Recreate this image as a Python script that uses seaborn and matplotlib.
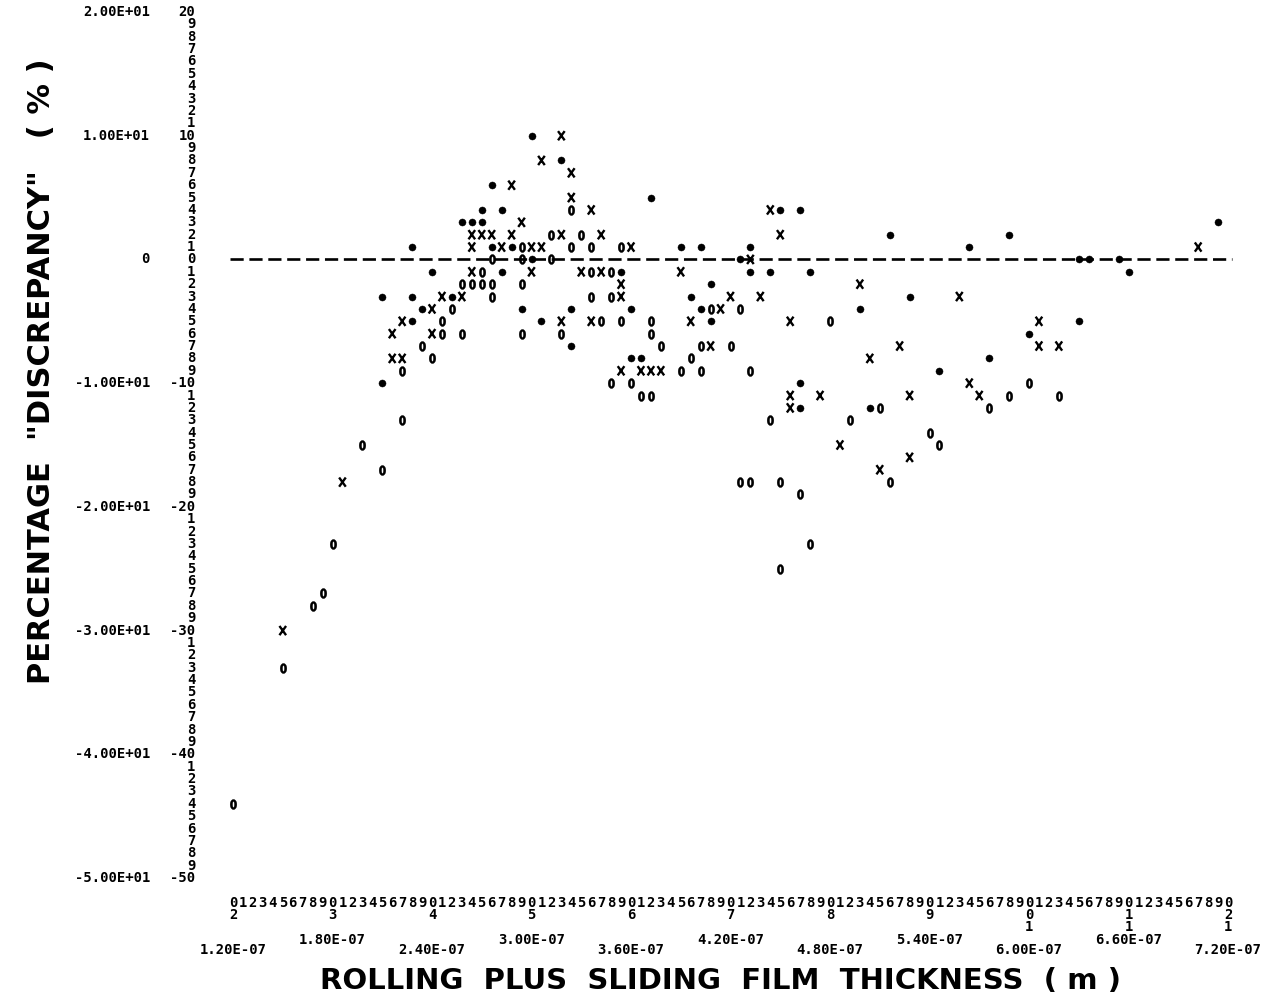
import numpy as np
import pandas as pd
import matplotlib
matplotlib.use("Agg")
import matplotlib.pyplot as plt
import matplotlib.transforms as mtrans
from matplotlib.path import Path
import seaborn as sns

# ---------------------------------------------------------------------------
# Data: film thickness in nanometres, percentage discrepancy in %
# three printer symbols: '*', 'X' and '0'
# ---------------------------------------------------------------------------
star_nm = [276, 270, 258, 264, 270, 276, 228, 240, 210, 228, 252, 234, 228, 210,
           300, 318, 372, 282, 288, 390, 402, 432, 300, 426, 282, 354, 432, 444,
           408, 396, 294, 324, 360, 402, 306, 408, 324, 360, 366,
           450, 462, 516, 588, 564, 468, 528, 498, 600, 576, 546, 462, 462, 504,
           714, 630, 636, 654, 660, 630]
star_pct = [6, 4, 3, 3, 3, 1, 1, -1, -3, -3, -3, -4, -5, -10,
            10, 8, 5, 4, 1, 1, 1, 1, 0, 0, -1, -1, -1, -1,
            -2, -3, -4, -4, -4, -4, -5, -5, -7, -8, -8,
            4, 4, 2, 2, 1, -1, -3, -4, -6, -8, -9, -10, -12, -12,
            3, 0, 0, 0, -1, -5]

cross_nm = [264, 270, 276, 264, 264, 246, 258, 240, 222, 216, 240, 216, 222, 186, 150,
            318, 306, 324, 288, 324, 336, 294, 288, 318, 342, 282, 300, 306, 360, 432,
            300, 330, 342, 390, 354, 354, 420, 438, 414, 318, 336, 396, 408, 354, 366,
            372, 378,
            444, 450, 498, 558, 456, 606, 522, 606, 618, 504, 564, 456, 474, 528, 570,
            456, 486, 528, 510, 702]
cross_pct = [2, 2, 2, 1, -1, -3, -3, -4, -5, -6, -6, -8, -8, -18, -30,
             10, 8, 7, 6, 5, 4, 3, 2, 2, 2, 1, 1, 1, 1, 0,
             -1, -1, -1, -1, -2, -3, -3, -3, -4, -5, -5, -5, -7, -9, -9,
             -9, -9,
             4, 2, -2, -3, -5, -5, -7, -7, -7, -8, -10, -11, -11, -11, -11,
             -12, -15, -16, -17, 1]

zero_nm = [276, 270, 258, 264, 270, 276, 276, 252, 246, 246, 258, 234, 240, 222, 222,
           198, 210, 180, 174, 168, 150, 120,
           324, 312, 330, 294, 324, 336, 354, 294, 312, 336, 348, 294, 336, 348, 408,
           426, 342, 354, 372, 294, 318, 372, 378, 402, 420, 396, 390, 402, 432, 348,
           360, 366, 372,
           480, 600, 588, 618, 510, 576, 444, 492, 540, 546, 516, 426, 432, 450, 462,
           468, 450]
zero_pct = [0, -1, -2, -2, -2, -2, -3, -4, -5, -6, -6, -7, -8, -9, -13,
            -15, -17, -23, -27, -28, -33, -44,
            4, 2, 2, 1, 1, 1, 1, 0, 0, -1, -1, -2, -3, -3, -4,
            -4, -5, -5, -5, -6, -6, -6, -7, -7, -7, -8, -9, -9, -9, -10,
            -10, -11, -11,
            -5, -10, -11, -11, -12, -12, -13, -13, -14, -15, -18, -18, -18, -18, -19,
            -23, -25]

# axis scales
x_major_nm = [120, 180, 240, 300, 360, 420, 480, 540, 600, 660, 720]
x_major_labels = ["1.20E-07", "1.80E-07", "2.40E-07", "3.00E-07", "3.60E-07", "4.20E-07",
                  "4.80E-07", "5.40E-07", "6.00E-07", "6.60E-07", "7.20E-07"]
y_major = [20, 10, 0, -10, -20, -30, -40, -50]
y_major_labels = ["2.00E+01", "1.00E+01", "0", "-1.00E+01", "-2.00E+01",
                  "-3.00E+01", "-4.00E+01", "-5.00E+01"]
x_title = "ROLLING  PLUS  SLIDING  FILM  THICKNESS  ( m )"
y_title = 'PERCENTAGE  "DISCREPANCY"   ( % )'

# ---------------------------------------------------------------------------
sns.set_theme(style="white")
plt.rcParams["font.family"] = ["DejaVu Sans"]

W, H = 1271, 1000
fig = plt.figure(figsize=(W / 100, H / 100), dpi=100)
ax = fig.add_axes([0, 0, 1, 1])
ax.set_facecolor("white")

PX_PER_NM = 995 / 600.0
PX_PER_PCT = 866 / 70.0
ax.set_xlim((120 - 233 / PX_PER_NM) * 1e-9, (720 + (W - 1228) / PX_PER_NM) * 1e-9)
ax.set_ylim(-50 - (H - 878) / PX_PER_PCT, 20 + 12 / PX_PER_PCT)
ax.axis("off")

def fx(px):
    return px / W

def fy(py):
    return 1 - py / H

# printer glyphs as marker paths
def ellipse(a, b, n=48, reverse=False):
    t = np.linspace(0, 2 * np.pi, n)
    if reverse:
        t = t[::-1]
    return np.column_stack([a * np.cos(t), b * np.sin(t)])

ring_codes = [Path.MOVETO] + [Path.LINETO] * 46 + [Path.CLOSEPOLY]
zero_glyph = Path(np.concatenate([ellipse(0.33, 0.5), ellipse(0.10, 0.30, reverse=True)]),
                  ring_codes + ring_codes)
cross_glyph = Path([(-0.36, -0.5), (0.36, 0.5), (-0.36, 0.5), (0.36, -0.5)],
                   [Path.MOVETO, Path.LINETO, Path.MOVETO, Path.LINETO])

df = pd.concat([
    pd.DataFrame({"thickness": np.array(star_nm) * 1e-9, "discrepancy": star_pct, "symbol": "*"}),
    pd.DataFrame({"thickness": np.array(cross_nm) * 1e-9, "discrepancy": cross_pct, "symbol": "X"}),
    pd.DataFrame({"thickness": np.array(zero_nm) * 1e-9, "discrepancy": zero_pct, "symbol": "0"}),
], ignore_index=True)

# zero reference line printed as a row of dashes
half_char = 3.5 / PX_PER_NM
ax.plot([(120 - half_char) * 1e-9, (720 + half_char) * 1e-9], [0, 0], color="black",
        lw=1.9, dashes=(5.0, 2.16), solid_capstyle="butt", dash_capstyle="butt", zorder=1)

styles = {
    "*": dict(marker="o", s=26, facecolor="black", edgecolor="black", linewidth=0.3),
    "X": dict(marker=cross_glyph, s=44, facecolor="none", edgecolor="black", linewidth=1.7),
    "0": dict(marker=zero_glyph, s=52, facecolor="black", edgecolor="black", linewidth=0.3),
}
for sym, kw in styles.items():
    sub = df[df["symbol"] == sym]
    sns.scatterplot(data=sub, x="thickness", y="discrepancy", color="black",
                    legend=False, ax=ax, zorder=3, clip_on=False, **kw)

# ---------------------------------------------------------------------------
# printed scales
mono = dict(family="DejaVu Sans Mono", weight="bold", color="black")
xt = mtrans.blended_transform_factory(ax.transData, fig.transFigure)
yt = mtrans.blended_transform_factory(fig.transFigure, ax.transData)

# x: one digit per character column, major numbers underneath
for k in range(101):
    xv = (120 + 6 * k) * 1e-9
    ax.text(xv, fy(903), str(k % 10), transform=xt, ha="center", va="center",
            fontsize=10, **mono)
    if k % 10 == 0:
        n = 2 + k // 10
        ax.text(xv, fy(915), str(n % 10), transform=xt, ha="center", va="center",
                fontsize=10, **mono)
        if n >= 10:
            ax.text(xv, fy(927), str(n // 10), transform=xt, ha="center", va="center",
                    fontsize=10, **mono)

for i, (v, lab) in enumerate(zip(x_major_nm, x_major_labels)):
    ax.text(v * 1e-9, fy(940 if i % 2 else 950), lab, transform=xt, ha="center",
            va="center", fontsize=10, **mono)

# y: one digit per row, full numbers at every tenth row
col_x = 191
for v in range(-50, 21):
    if v % 10 == 0:
        ax.text(fx(col_x + 4.4), v, str(v), transform=yt, ha="right", va="center",
                fontsize=10, **mono)
    else:
        ax.text(fx(col_x), v, str(abs(v) % 10), transform=yt, ha="center", va="center",
                fontsize=10, **mono)

for v, lab in zip(y_major, y_major_labels):
    ax.text(fx(150), v, lab, transform=yt, ha="right", va="center", fontsize=10, **mono)

# axis titles
fig.text(fx(721), fy(989), x_title, ha="center", va="baseline", fontsize=21,
         fontweight="bold", color="black")
fig.text(fx(50), fy(371), y_title, rotation=90, rotation_mode="anchor",
         ha="center", va="baseline", fontsize=22, fontweight="bold", color="black")

fig.savefig("out.png", dpi=100, facecolor="white")
